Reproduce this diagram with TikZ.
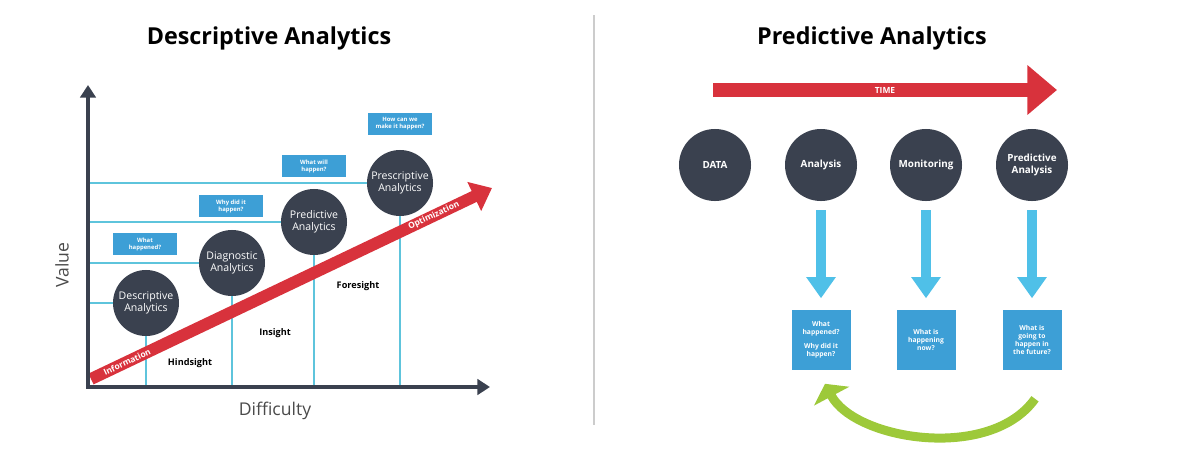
\documentclass[tikz,border=0pt]{standalone}
\usepackage{fontspec}
\setmainfont{Open Sans}
\usetikzlibrary{arrows.meta,calc}
\definecolor{slate}{HTML}{3A414F}
\definecolor{qblue}{HTML}{3D9FD6}
\definecolor{guidecyan}{HTML}{5EC4DC}
\definecolor{arrowred}{HTML}{D8323C}
\definecolor{downcyan}{HTML}{4FC0E8}
\definecolor{loopgreen}{HTML}{9DC93A}
\definecolor{labelgray}{HTML}{4A4A4A}
\begin{document}
\begin{tikzpicture}[x=0.025cm,y=-0.025cm,
  title/.style={font=\bfseries\fontsize{16.6}{19}\selectfont},
  axlabel/.style={text=labelgray, font=\fontsize{12.5}{14}\selectfont},
  sight/.style={font=\bfseries\fontsize{6.5}{8}\selectfont},
  circ/.style={circle, fill=slate, text=white, minimum size=1.65cm, inner sep=0pt, align=center, font=\fontsize{7.5}{8.5}\selectfont},
  bigcirc/.style={circle, fill=slate, text=white, minimum size=1.8cm, inner sep=0pt, align=center, font=\bfseries\fontsize{7}{8.5}\selectfont},
  qbox/.style={rectangle, fill=qblue, text=white, minimum width=1.575cm, minimum height=0.55cm, inner sep=0pt, align=center, font=\bfseries\fontsize{4.2}{5}\selectfont},
  sqbox/.style={rectangle, fill=qblue, text=white, minimum size=1.475cm, inner sep=0pt, align=center, font=\bfseries\fontsize{4.8}{5.8}\selectfont},
  axis/.style={draw=slate, line width=2.8pt, {Triangle[length=9pt,width=11pt]}-{Triangle[length=9pt,width=11pt]}},
  guide/.style={draw=guidecyan, line width=1.2pt},
  redarrow/.style={draw=arrowred, line width=8.5pt, -{Triangle[length=14pt,width=22pt]}},
  onarrow/.style={text=white, font=\bfseries\fontsize{6}{6.5}\selectfont},
  downarrow/.style={draw=downcyan, line width=7.5pt, -{Triangle[length=15pt,width=20pt]}},
  looparrow/.style={draw=loopgreen, line width=6.4pt, -{Triangle[length=10pt,width=28pt]}}]
\useasboundingbox (0,0) rectangle (1190,468);

\node[title] (ltitle) at (269,38) {Descriptive Analytics};
\node[title] (rtitle) at (872,38) {Predictive Analytics};
\draw[gray!40, line width=0.8pt] (594,15) -- (594,425);

\coordinate (orig) at (88,387);
\coordinate (ytop) at (88,85);
\coordinate (xend) at (490,387);

\node[circ] (c1) at (146,303) {Descriptive\\Analytics};
\node[circ] (c2) at (232,263) {Diagnostic\\Analytics};
\node[circ] (c3) at (314,222) {Predictive\\Analytics};
\node[circ] (c4) at (400,183) {Prescriptive\\Analytics};

\draw[guide] (c1 -| orig) -- (c1);
\draw[guide] (c2 -| orig) -- (c2);
\draw[guide] (c3 -| orig) -- (c3);
\draw[guide] (c4 -| orig) -- (c4);
\draw[guide] (c1) -- (c1 |- orig);
\draw[guide] (c2) -- (c2 |- orig);
\draw[guide] (c3) -- (c3 |- orig);
\draw[guide] (c4) -- (c4 |- orig);

\node[qbox] (hap) at (145,244) {What\\happened?};
\node[qbox] (why) at (231,206) {Why did it\\happen?};
\node[qbox] (will) at (314,166) {What will\\happen?};
\node[qbox] (how) at (400,124) {How can we\\make it happen?};

\node[sight] (hind) at (190,363) {Hindsight};
\node[sight] (ins) at (275,333) {Insight};
\node[sight] (fore) at (358,286) {Foresight};

\coordinate (rs) at (91,379);
\coordinate (rt) at (492,188);
\draw[redarrow] (rs) -- node[onarrow, pos=0.09, sloped] {Information} node[onarrow, pos=0.855, sloped] {Optimization} (rt);

\draw[axis] (ytop) -- (orig) -- (xend);

\node[axlabel, rotate=90] (vlab) at (62,265) {Value};
\node[axlabel] (dlab) at (275,411) {Difficulty};

\coordinate (ts) at (713,90);
\coordinate (te) at (1057,90);
\draw[draw=arrowred, line width=10pt, -{Triangle[length=21pt,width=34pt]}] (ts) -- node[onarrow] {TIME} (te);

\node[bigcirc] (data) at (715,165) {DATA};
\node[bigcirc] (ana) at (821,165) {Analysis};
\node[bigcirc] (mon) at (926,165) {Monitoring};
\node[bigcirc] (pred) at (1032,165) {Predictive\\Analysis};

\node[sqbox] (b1) at (821,340) {What\\happened?\\[4pt]Why did it\\happen?};
\node[sqbox] (b2) at (926,340) {What is\\happening\\now?};
\node[sqbox] (b3) at (1032,340) {What is\\going to\\happen in\\the future?};

\draw[downarrow, shorten <=6.4pt, shorten >=8.5pt] (ana) -- (b1);
\draw[downarrow, shorten <=6.4pt, shorten >=8.5pt] (mon) -- (b2);
\draw[downarrow, shorten <=6.4pt, shorten >=8.5pt] (pred) -- (b3);

\draw[looparrow] ($(b3.south)+(3,29)$) .. controls (990,462) and (855,440) .. ($(b1.south)+(4,14)$);
\end{tikzpicture}
\end{document}
